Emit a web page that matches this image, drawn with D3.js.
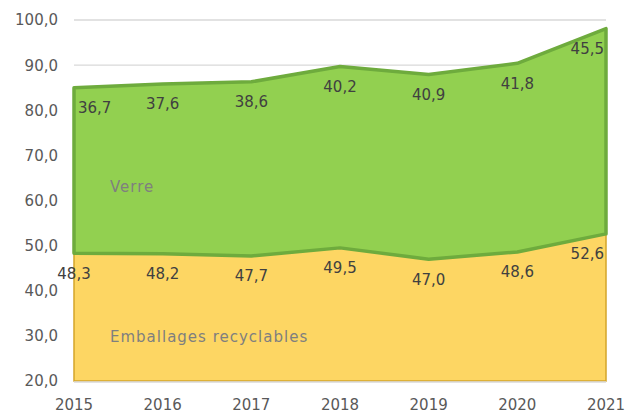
<!DOCTYPE html>
<html><head><meta charset="utf-8">
<script src="https://cdn.jsdelivr.net/npm/d3@7"></script>
<style>body{margin:0;background:#fff}svg{display:block}text{font-family:"DejaVu Sans",sans-serif}</style>
</head><body><svg id="c" width="628" height="413"></svg>
<script>
const years = [2015, 2016, 2017, 2018, 2019, 2020, 2021];
const emballages = [48.3, 48.2, 47.7, 49.5, 47.0, 48.6, 52.6];
const verre = [36.7, 37.6, 38.6, 40.2, 40.9, 41.8, 45.5];
const seriesNames = ["Emballages recyclables", "Verre"];
const yTicks = [20, 30, 40, 50, 60, 70, 80, 90, 100];

const svg = d3.select("#c");
const x = d3.scaleLinear().domain([2015, 2021]).range([74, 606]);
const y = d3.scaleLinear().domain([20, 100]).range([381, 20]);
const fmt = v => d3.format(".1f")(v).replace(".", ",");

const table = years.map((yr, i) => ({year: yr, emb: emballages[i], verre: verre[i]}));
const stack = d3.stack().keys(["emb", "verre"]);
const layers = stack(table);

// gridlines
svg.append("g").selectAll("line").data(yTicks.filter(t => t > 20)).join("line")
  .attr("x1", x(2015)).attr("x2", x(2021))
  .attr("y1", d => y(d)).attr("y2", d => y(d))
  .attr("stroke", "#d9d9d9").attr("stroke-width", 1.3);

const area = d3.area().x(d => x(d.data.year)).y0(d => y(Math.max(20, d[0]))).y1(d => y(d[1]));
// emballages
svg.append("path").datum(layers[0]).attr("d", d3.area().x(d => x(d.data.year)).y0(y(20)).y1(d => y(d[1])))
  .attr("fill", "#fdd663").attr("stroke", "#d4a52a").attr("stroke-width", 1.5);
// verre
svg.append("path").datum(layers[1]).attr("d", area)
  .attr("fill", "#92d050").attr("stroke", "#6eab3d").attr("stroke-width", 3.5).attr("stroke-linejoin", "round");

// bottom axis line
svg.append("line").attr("x1", x(2015)).attr("x2", x(2021)).attr("y1", y(20) + 1).attr("y2", y(20) + 1)
  .attr("stroke", "#d9d9d9").attr("stroke-width", 1.3);

// y tick labels
svg.append("g").selectAll("text").data(yTicks).join("text")
  .attr("x", 58).attr("y", d => y(d)).attr("dy", "0.36em").attr("text-anchor", "end")
  .attr("font-size", 15).attr("fill", "#595959").text(fmt);

// x tick labels
svg.append("g").selectAll("text").data(years).join("text")
  .attr("x", d => x(d)).attr("y", 410).attr("text-anchor", "middle")
  .attr("font-size", 15).attr("fill", "#595959").text(d => d);

// data labels
const n = years.length;
function labels(layer, key, firstStart) {
  svg.append("g").selectAll("text").data(layer).join("text")
    .attr("x", (d, i) => i === n - 1 ? x(d.data.year) - 2 : (i === 0 && firstStart ? x(d.data.year) + 4 : x(d.data.year)))
    .attr("y", d => y(d[1]) + 20).attr("dy", "0.36em")
    .attr("text-anchor", (d, i) => i === n - 1 ? "end" : (i === 0 && firstStart ? "start" : "middle"))
    .attr("font-size", 15).attr("fill", "#404040")
    .text(d => fmt(d.data[key]));
}
labels(layers[1], "verre", true);
labels(layers[0], "emb", false);

// series labels
svg.append("text").attr("x", 110).attr("y", 192).attr("font-size", 15).attr("letter-spacing", 1)
  .attr("fill", "#7f7f7f").text(seriesNames[1]);
svg.append("text").attr("x", 110).attr("y", 342).attr("font-size", 15).attr("letter-spacing", 1)
  .attr("fill", "#7f7f7f").text(seriesNames[0]);
</script></body></html>
